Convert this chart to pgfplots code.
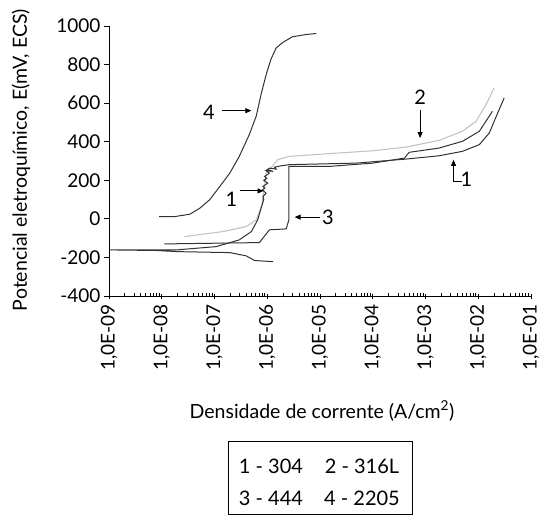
\documentclass[border=0pt]{standalone}
\usepackage{fontspec}
\setmainfont{Lato}
\usepackage{pgfplots}
\pgfplotsset{compat=1.18}
\usetikzlibrary{arrows.meta}
\definecolor{dark}{RGB}{50,50,50}
\definecolor{light}{RGB}{195,195,195}
\begin{document}
\begin{tikzpicture}[x=1pt,y=1pt]
\useasboundingbox (-109,-220) rectangle (439,296);
\begin{axis}[
  at={(0,0)}, anchor=south west,
  scale only axis, width=422pt, height=270pt,
  xmode=log, xmin=1e-9, xmax=1e-1, ymin=-400, ymax=1000,
  axis lines*=left,
  ytick={-400,-200,0,200,400,600,800,1000},
  xtick={1e-9,1e-8,1e-7,1e-6,1e-5,1e-4,1e-3,1e-2,1e-1},
  xticklabels={{1,0E-09},{1,0E-08},{1,0E-07},{1,0E-06},{1,0E-05},{1,0E-04},{1,0E-03},{1,0E-02},{1,0E-01}},
  minor xtick={2e-9,3e-9,4e-9,5e-9,6e-9,7e-9,8e-9,9e-9,
    2e-8,3e-8,4e-8,5e-8,6e-8,7e-8,8e-8,9e-8,
    2e-7,3e-7,4e-7,5e-7,6e-7,7e-7,8e-7,9e-7,
    2e-6,3e-6,4e-6,5e-6,6e-6,7e-6,8e-6,9e-6,
    2e-5,3e-5,4e-5,5e-5,6e-5,7e-5,8e-5,9e-5,
    2e-4,3e-4,4e-4,5e-4,6e-4,7e-4,8e-4,9e-4,
    2e-3,3e-3,4e-3,5e-3,6e-3,7e-3,8e-3,9e-3,
    2e-2,3e-2,4e-2,5e-2,6e-2,7e-2,8e-2,9e-2},
  tick align=outside,
  major tick length=5pt, minor tick length=3pt,
  minor x tick style={yshift=3pt},
  major x tick style={yshift=2.5pt},
  tick style={black, line width=0.8pt},
  axis line style={black, line width=0.8pt},
  x tick label style={rotate=90, anchor=east, font=\fontsize{19}{20}\selectfont},
  y tick label style={font=\fontsize{19}{20}\selectfont},
  /pgf/number format/assume math mode=true,
  /pgf/number format/1000 sep={},
  clip=false,
]
% 4 - 2205
\addplot[dark, line width=1pt] coordinates {
 (8.9e-9,12) (1.78e-8,12) (3.4e-8,24) (5.25e-8,55) (8.1e-8,99) (1.26e-7,168)
 (1.95e-7,237) (2.95e-7,324) (4.57e-7,437) (6.17e-7,532) (7.76e-7,653)
 (9.55e-7,748) (1.17e-6,826) (1.48e-6,887) (2.0e-6,916) (3.0e-6,944)
 (5.5e-6,956) (8.5e-6,961)
};
% 2 - 316L
\addplot[light, line width=1.1pt] coordinates {
 (2.7e-8,-92) (1.45e-7,-66) (4.0e-7,-40) (6.2e-7,-5) (7.8e-7,64) (8.9e-7,168)
 (9.5e-7,237) (1.17e-6,263) (1.58e-6,307) (2.63e-6,324) (1.12e-5,336)
 (1.0e-4,353) (4.3e-4,372) (1.8e-3,407) (5.0e-3,454) (9.1e-3,506)
 (1.41e-2,593) (2.0e-2,679)
};
% 3 - 444
\addplot[dark, line width=1pt] coordinates {
 (1.12e-8,-130) (7.1e-7,-123) (1.1e-6,-57) (2.29e-6,-52) (2.57e-6,-5)
 (2.57e-6,263) (2.57e-6,272) (1.51e-5,272) (1.0e-4,289) (4.0e-4,315)
 (4.9e-4,345) (1.8e-3,367) (5.0e-3,402) (1.05e-2,454) (1.86e-2,558)
};
% 1 - 304
\addplot[dark, line width=1pt] coordinates {
 (1.29e-6,-222) (5.75e-7,-216) (4.0e-7,-192) (1.95e-7,-175) (2.04e-8,-170)
 (7.9e-9,-164) (1.02e-9,-161) (1.9e-8,-161) (1.07e-7,-144) (2.95e-7,-109)
 (5.0e-7,-66) (6.6e-7,-5) (7.8e-7,64) (8.6e-7,100) (8.3e-7,116) (9.5e-7,133)
 (8.1e-7,150) (9.0e-7,160) (8.3e-7,168) (1.02e-6,185) (8.6e-7,200) (9.8e-7,210)
 (8.9e-7,220) (1.1e-6,237) (9.5e-7,250) (1.29e-6,246) (1.0e-6,255)
 (1.1e-6,263) (1.48e-6,258) (1.38e-6,268) (1.82e-6,275) (2.63e-6,281)
 (4.8e-5,289) (4.3e-4,310) (1.8e-3,327) (5.0e-3,350) (1.05e-2,385)
 (1.62e-2,445) (2.2e-2,532) (3.1e-2,627)
};
% annotations
\begin{scope}[font=\fontsize{20}{21}\selectfont, line width=0.9pt, >={Triangle[length=6pt,width=5pt]}]
\node at (axis cs:7.8e-8,551) {4};
\draw[->] (axis cs:1.41e-7,561) -- (axis cs:5.0e-7,561);
\node at (axis cs:7.9e-4,630) {2};
\draw[->] (axis cs:7.9e-4,566) -- (axis cs:7.9e-4,419);
\draw[->] (axis cs:5.0e-3,194) -- (axis cs:3.4e-3,194) -- (axis cs:3.4e-3,306);
\node at (axis cs:6.0e-3,206) {1};
\node at (axis cs:2.1e-7,99) {1};
\draw[->] (axis cs:3.0e-7,145) -- (axis cs:8.5e-7,145);
\node at (axis cs:1.41e-5,9) {3};
\draw[->] (axis cs:9.8e-6,9) -- (axis cs:3.3e-6,9);
\end{scope}
\end{axis}
\node[rotate=90, font=\fontsize{19.5}{20}\selectfont] at (-88,136) {Potencial eletroquímico, E(mV, ECS)};
\node[font=\fontsize{19.5}{20}\selectfont] at (213,-115) {Densidade de corrente (A/cm\textsuperscript{2})};
\draw[line width=0.8pt] (119,-218) rectangle (303,-145);
\begin{scope}[font=\fontsize{20}{21}\selectfont]
\node at (162,-170) {1 - 304};
\node at (253,-170) {2 - 316L};
\node at (162,-202) {3 - 444};
\node at (253,-202) {4 - 2205};
\end{scope}
\end{tikzpicture}
\end{document}
